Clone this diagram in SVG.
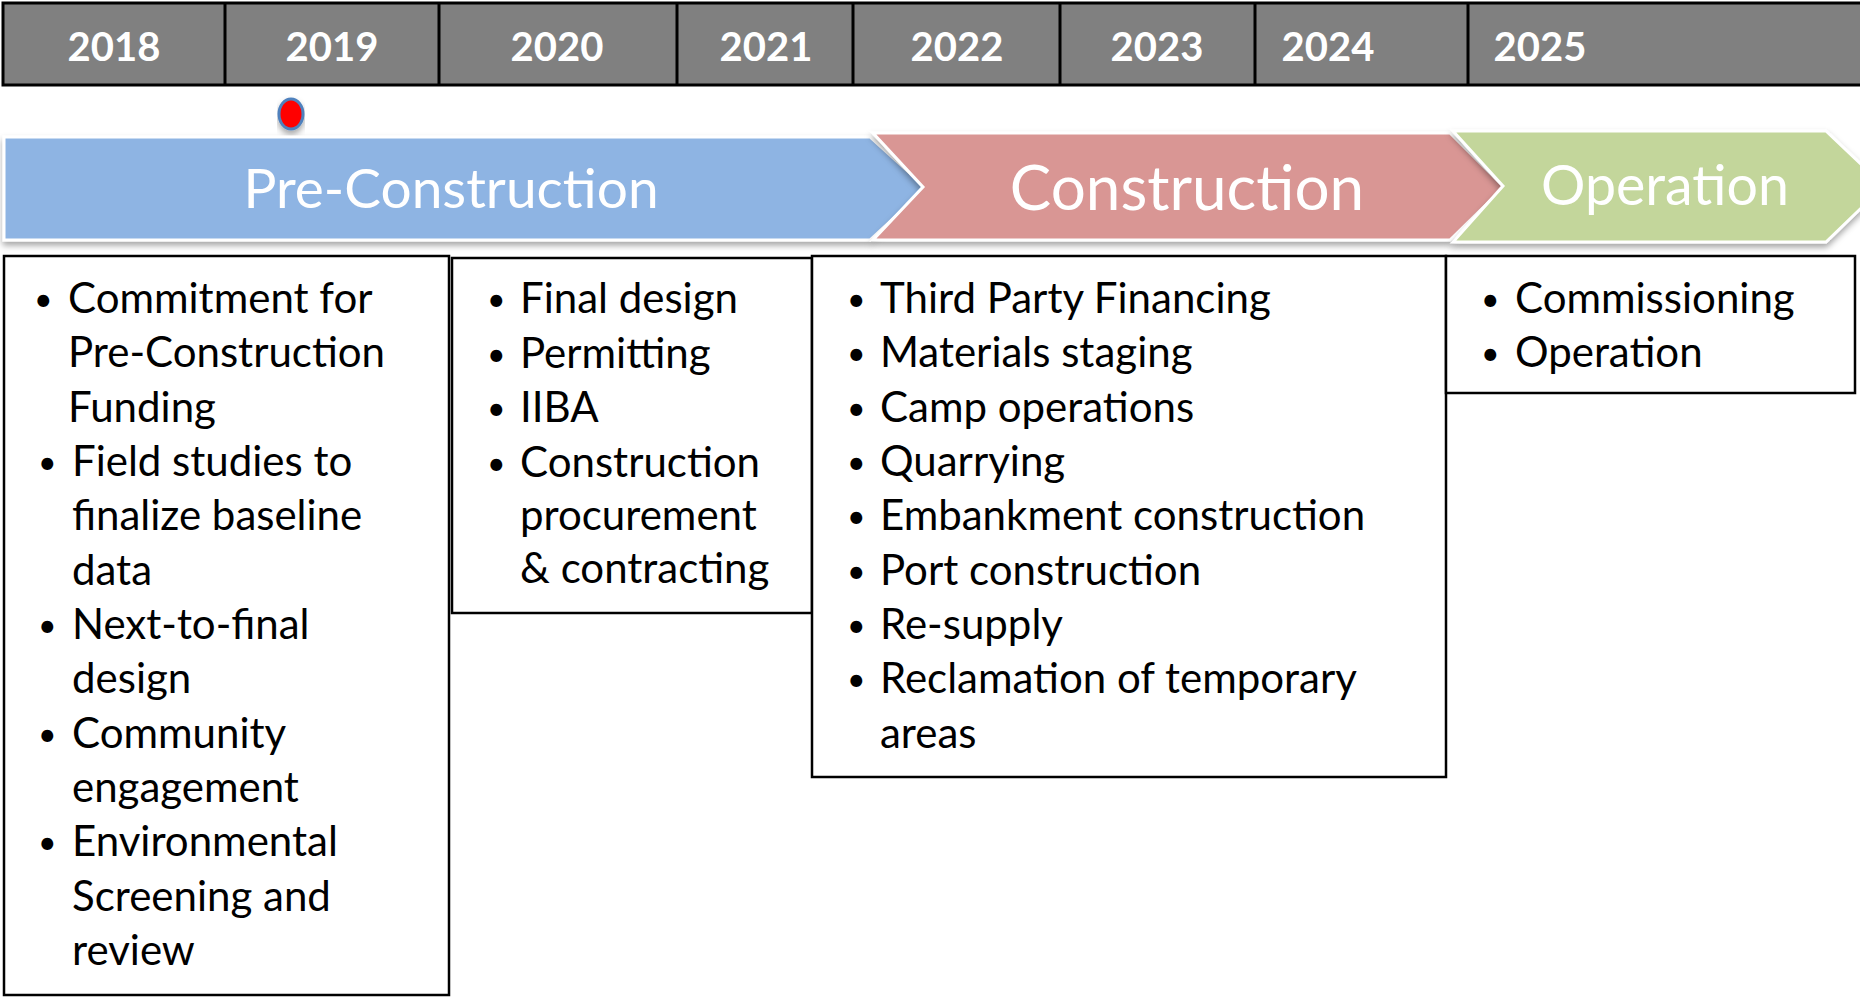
<svg xmlns="http://www.w3.org/2000/svg" width="1860" height="997" viewBox="0 0 1860 997">
  <style>
    .year { font-family: Lato, "Open Sans", sans-serif; font-weight: bold; font-size: 40px; fill: #ffffff; text-anchor: middle; }
    .phase { font-family: Lato, "Open Sans", sans-serif; fill: #ffffff; text-anchor: middle; }
    .item { font-family: Lato, "Open Sans", sans-serif; font-size: 42px; fill: #000000; }
    .dot { font-size: 32px; }
    .box { fill: #ffffff; stroke: #000000; stroke-width: 2.5; }
    .chev { stroke: #ffffff; stroke-width: 3; stroke-linejoin: miter; filter: url(#shadow); }
    .grid { stroke: #000000; stroke-width: 3; }
  </style>
  <defs>
    <filter id="shadow" x="-5%" y="-20%" width="110%" height="150%">
      <feDropShadow dx="0" dy="4" stdDeviation="3" flood-color="#000000" flood-opacity="0.35"/>
    </filter>
  </defs>

  <rect width="1860" height="997" fill="#ffffff"/>

  <!-- year header bar -->
  <g id="years">
    <rect x="3" y="3" width="1862" height="82" fill="#808080" class="grid"/>
    <line class="grid" x1="225" y1="3" x2="225" y2="85"/>
    <line class="grid" x1="439" y1="3" x2="439" y2="85"/>
    <line class="grid" x1="677" y1="3" x2="677" y2="85"/>
    <line class="grid" x1="853" y1="3" x2="853" y2="85"/>
    <line class="grid" x1="1060" y1="3" x2="1060" y2="85"/>
    <line class="grid" x1="1255" y1="3" x2="1255" y2="85"/>
    <line class="grid" x1="1468" y1="3" x2="1468" y2="85"/>
    <text class="year" x="114" y="61">2018</text>
    <text class="year" x="332" y="61">2019</text>
    <text class="year" x="557" y="61">2020</text>
    <text class="year" x="766" y="61">2021</text>
    <text class="year" x="957" y="61">2022</text>
    <text class="year" x="1157" y="61">2023</text>
    <text class="year" x="1328" y="61">2024</text>
    <text class="year" x="1540" y="61">2025</text>
  </g>

  <!-- current-date marker -->
  <g id="marker">
    <ellipse cx="291" cy="114" rx="12" ry="15" fill="#ff0000" stroke="#4f81bd" stroke-width="3" filter="url(#shadow)"/>
  </g>

  <!-- phase chevrons -->
  <g id="phase-preconstruction">
    <polygon class="chev" fill="#8eb4e3" points="4,137 870,137 926,188 870,240 4,240"/>
    <text class="phase" x="451" y="208" font-size="55">Pre-Construction</text>
  </g>
  <g id="phase-construction">
    <polygon class="chev" fill="#d99694" points="873,133 1450,133 1504,187 1450,240 873,240 923,187"/>
    <text class="phase" x="1187" y="210" font-size="62">Construction</text>
  </g>
  <g id="phase-operation">
    <polygon class="chev" fill="#c3d69b" points="1453,131 1826,131 1884,186 1826,242 1453,242 1503,186"/>
    <text class="phase" x="1665" y="205" font-size="55.5">Operation</text>
  </g>

  <!-- activity lists -->
  <g id="list-preconstruction">
    <rect class="box" x="4" y="256" width="445" height="739"/>
    <text class="item">
      <tspan class="dot" x="34" y="311">•</tspan><tspan x="68" y="313">Commitment for</tspan>
      <tspan x="68" y="367">Pre-Construction</tspan>
      <tspan x="68" y="422">Funding</tspan>
      <tspan class="dot" x="38" y="474">•</tspan><tspan x="72" y="476">Field studies to</tspan>
      <tspan x="72" y="530">finalize baseline</tspan>
      <tspan x="72" y="585">data</tspan>
      <tspan class="dot" x="38" y="637">•</tspan><tspan x="72" y="639">Next-to-final</tspan>
      <tspan x="72" y="693">design</tspan>
      <tspan class="dot" x="38" y="746">•</tspan><tspan x="72" y="748">Community</tspan>
      <tspan x="72" y="802">engagement</tspan>
      <tspan class="dot" x="38" y="854">•</tspan><tspan x="72" y="856">Environmental</tspan>
      <tspan x="72" y="911">Screening and</tspan>
      <tspan x="72" y="965">review</tspan>
    </text>
  </g>

  <g id="list-design">
    <rect class="box" x="452" y="258" width="360" height="355"/>
    <text class="item">
      <tspan class="dot" x="487" y="311">•</tspan><tspan x="520" y="313">Final design</tspan>
      <tspan class="dot" x="487" y="366">•</tspan><tspan x="520" y="368">Permitting</tspan>
      <tspan class="dot" x="487" y="420">•</tspan><tspan x="520" y="422">IIBA</tspan>
      <tspan class="dot" x="487" y="475">•</tspan><tspan x="520" y="477">Construction</tspan>
      <tspan x="520" y="530">procurement</tspan>
      <tspan x="520" y="583">&amp; contracting</tspan>
    </text>
  </g>

  <g id="list-construction">
    <rect class="box" x="812" y="256" width="634" height="521"/>
    <text class="item">
      <tspan class="dot" x="847" y="311">•</tspan><tspan x="880" y="313">Third Party Financing</tspan>
      <tspan class="dot" x="847" y="365">•</tspan><tspan x="880" y="367">Materials staging</tspan>
      <tspan class="dot" x="847" y="420">•</tspan><tspan x="880" y="422">Camp operations</tspan>
      <tspan class="dot" x="847" y="474">•</tspan><tspan x="880" y="476">Quarrying</tspan>
      <tspan class="dot" x="847" y="528">•</tspan><tspan x="880" y="530">Embankment construction</tspan>
      <tspan class="dot" x="847" y="583">•</tspan><tspan x="880" y="585">Port construction</tspan>
      <tspan class="dot" x="847" y="637">•</tspan><tspan x="880" y="639">Re-supply</tspan>
      <tspan class="dot" x="847" y="691">•</tspan><tspan x="880" y="693">Reclamation of temporary</tspan>
      <tspan x="880" y="748">areas</tspan>
    </text>
  </g>

  <g id="list-operation">
    <rect class="box" x="1446" y="256" width="409" height="137"/>
    <text class="item">
      <tspan class="dot" x="1481" y="311">•</tspan><tspan x="1515" y="313">Commissioning</tspan>
      <tspan class="dot" x="1481" y="365">•</tspan><tspan x="1515" y="367">Operation</tspan>
    </text>
  </g>
</svg>
